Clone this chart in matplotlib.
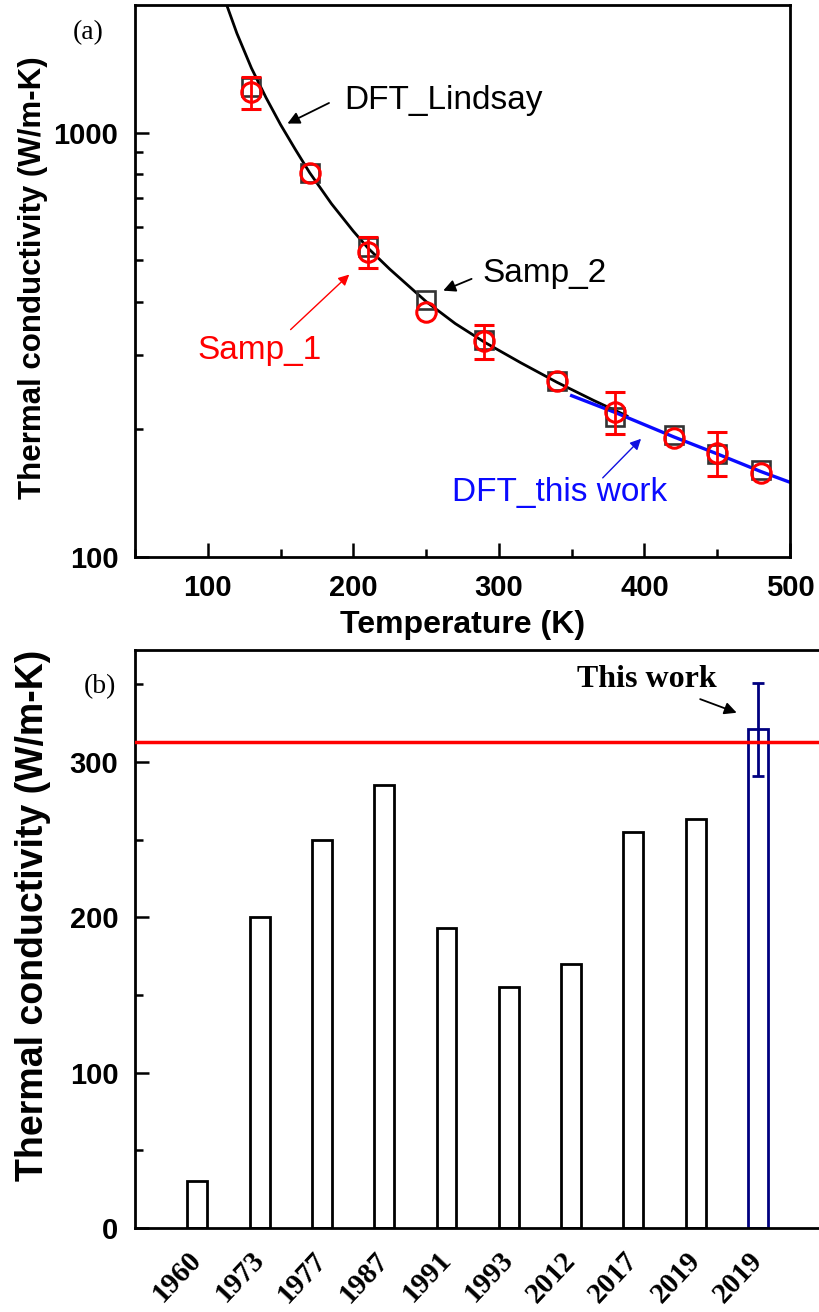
import numpy as np
import matplotlib
matplotlib.use("Agg")
import matplotlib.pyplot as plt
import matplotlib.transforms as mtransforms
from matplotlib.ticker import FixedLocator, NullFormatter, FuncFormatter, MultipleLocator

plt.rcParams['font.family'] = ['Liberation Sans', 'DejaVu Sans']
SERIF = ['Liberation Serif', 'DejaVu Serif']

# ---- panel (a) data ----
T_samp = [130, 170, 210, 250, 290, 340, 380, 420, 450, 480]
k_samp1 = [1245, 805, 524, 378, 323, 260, 220, 191, 176, 158]
err_samp1 = [105, np.nan, 45, np.nan, 30, np.nan, 25, np.nan, 21, np.nan]
k_samp2 = [1284, 805, 539, 404, 325, 260, 214, 194, 175, 160]

T_lindsay = [113, 120, 130, 140, 150, 160, 170, 185, 200, 210, 225, 250, 270, 290, 315, 340, 365, 388]
k_lindsay = [2000, 1715, 1420, 1210, 1045, 915, 805, 680, 586, 535, 477, 400, 355, 321, 287, 258, 234, 215]

T_this = [350, 380, 420, 450, 480, 500]
k_this = [240, 219, 192, 175, 159, 150]

# ---- panel (b) data ----
years = ['1960', '1973', '1977', '1987', '1991', '1993', '2012', '2017', '2019', '2019']
kappa_lit = [30, 200, 250, 285, 193, 155, 170, 255, 263, 321]
err_this = 30
kappa_ref = 313

fig = plt.figure(figsize=(8.19, 13.12), dpi=100)
W, H = 819.0, 1312.0

# ---------------- panel (a) ----------------
ax1 = fig.add_axes([135 / W, 1 - 557 / H, 655 / W, 552 / H])
ax1.set_yscale('log')
ax1.set_xlim(50, 500)
ax1.set_ylim(100, 2000)

ax1.plot(T_lindsay, k_lindsay, color='black', lw=2, zorder=2)
ax1.plot(T_this, k_this, color='#0a0aff', lw=2.4, zorder=2)
ax1.plot(T_samp, k_samp2, ls='none', marker='s', ms=12.5, mfc='none',
         mec='#333333', mew=1.9, zorder=3)
ax1.errorbar(T_samp, k_samp1, yerr=err_samp1, fmt='o', ms=14, mfc='none',
             mec='red', mew=2.2, ecolor='red', elinewidth=2, capsize=7,
             capthick=2, zorder=4)

ax1.yaxis.set_major_locator(FixedLocator([100, 1000]))
ax1.yaxis.set_major_formatter(FuncFormatter(lambda v, p: f"{int(v)}"))
ax1.yaxis.set_minor_locator(FixedLocator([200, 300, 400, 500, 600, 700, 800, 900]))
ax1.yaxis.set_minor_formatter(NullFormatter())
ax1.xaxis.set_major_locator(MultipleLocator(100))
ax1.xaxis.set_minor_locator(MultipleLocator(50))

for s in ax1.spines.values():
    s.set_linewidth(2)
ax1.tick_params(which='both', direction='in', top=False, right=False, width=1.8)
ax1.tick_params(which='major', length=10, pad=12)
ax1.tick_params(which='minor', length=5.5)
for lab in ax1.get_xticklabels() + ax1.get_yticklabels():
    lab.set_fontsize(21)
    lab.set_fontweight('bold')

# annotations
ax1.annotate('', xy=(153, 1044), xytext=(185, 1183),
             arrowprops=dict(arrowstyle='-|>', color='black', lw=1.3, mutation_scale=18))
ax1.text(194, 1194, 'DFT_Lindsay', fontsize=24, va='center', ha='left')
ax1.annotate('', xy=(260, 422), xytext=(283, 455),
             arrowprops=dict(arrowstyle='-|>', color='black', lw=1.3, mutation_scale=18))
ax1.text(289, 467, 'Samp_2', fontsize=24, va='center', ha='left')
ax1.annotate('', xy=(198.6, 468), xytext=(155.5, 340),
             arrowprops=dict(arrowstyle='-|>', color='red', lw=1, mutation_scale=16))
ax1.text(92.6, 306, 'Samp_1', fontsize=24, color='red', va='center', ha='left')
ax1.annotate('', xy=(399, 192), xytext=(370, 152),
             arrowprops=dict(arrowstyle='-|>', color='#1010e0', lw=1, mutation_scale=16))
ax1.text(267.8, 142, 'DFT_this work', fontsize=24, color='#0a0aff', va='center', ha='left')

fig.text(88 / W, 1 - 33 / H, '(a)', fontsize=20, family=SERIF, ha='center', va='center')
fig.text(33 / W, 1 - 278 / H, 'Thermal conductivity (W/m-K)', fontsize=22.5,
         fontweight='bold', rotation=90, ha='center', va='center')
fig.text(463 / W, 1 - 625 / H, 'Temperature (K)', fontsize=23, fontweight='bold',
         ha='center', va='center')

# ---------------- panel (b) ----------------
ax2 = fig.add_axes([135 / W, 1 - 1228 / H, 747.6 / W, 578 / H])
ax2.set_xlim(-1, 11)
ax2.set_ylim(0, 372)
xpos = np.arange(len(years))
edge = ['black'] * (len(years) - 1) + ['#000080']
ax2.bar(xpos, kappa_lit, width=0.32, facecolor='white', edgecolor=edge, linewidth=2, zorder=2)
ax2.errorbar(xpos[-1], kappa_lit[-1], yerr=err_this, fmt='none', ecolor='#000080',
             elinewidth=2, capsize=4, capthick=2, zorder=3)
ax2.axhline(kappa_ref, color='red', lw=2.5, zorder=4)

ax2.set_xticks(xpos)
ax2.set_xticklabels(years, rotation=47, ha='right', va='center', rotation_mode='anchor',
                    fontsize=21, fontweight='bold', family=SERIF)
shift = mtransforms.ScaledTranslation(13 / 100, 0, fig.dpi_scale_trans)
for lab in ax2.get_xticklabels():
    lab.set_transform(lab.get_transform() + shift)
ax2.yaxis.set_major_locator(MultipleLocator(100))
ax2.yaxis.set_minor_locator(MultipleLocator(50))
for s in ax2.spines.values():
    s.set_linewidth(2)
ax2.tick_params(axis='x', length=0, pad=20)
ax2.tick_params(axis='y', which='both', direction='in', width=1.8)
ax2.tick_params(axis='y', which='major', length=10, pad=12, labelsize=21)
ax2.tick_params(axis='y', which='minor', length=5.5)
for lab in ax2.get_yticklabels():
    lab.set_fontweight('bold')

ax2.annotate('', xy=(8.70, 331), xytext=(8.03, 341),
             arrowprops=dict(arrowstyle='-|>', color='black', lw=1.3, mutation_scale=18))
ax2.text(7.22, 353, 'This work', fontsize=23, fontweight='bold', family=SERIF,
         ha='center', va='center')

fig.text(100 / W, 1 - 687 / H, '(b)', fontsize=20, family=SERIF, ha='center', va='center')
fig.text(33 / W, 1 - 915 / H, 'Thermal conductivity (W/m-K)', fontsize=27,
         fontweight='bold', rotation=90, ha='center', va='center')

fig.savefig('out.png', dpi=100)
